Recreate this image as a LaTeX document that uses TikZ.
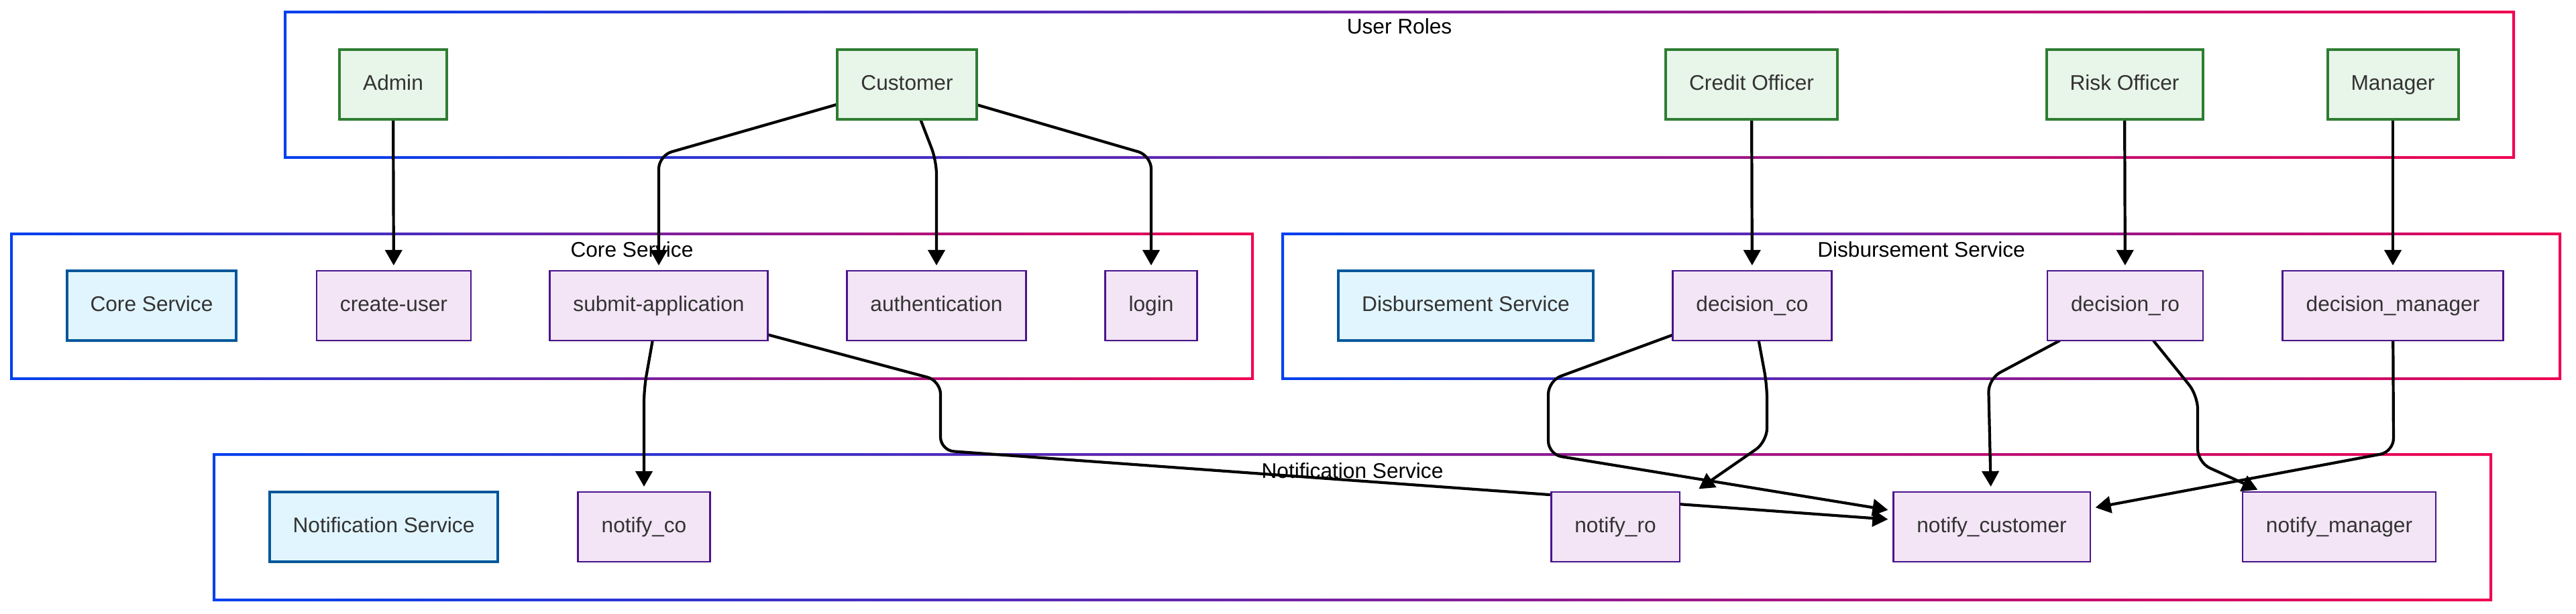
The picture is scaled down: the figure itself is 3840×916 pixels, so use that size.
\documentclass[tikz,border=0pt]{standalone}
\usepackage{fontspec}
\setmainfont{Liberation Sans}
\usetikzlibrary{arrows.meta, calc, shadows}
\definecolor{roleFill}{HTML}{E8F5E9}
\definecolor{roleDraw}{HTML}{2E7D32}
\definecolor{svcFill}{HTML}{E1F5FE}
\definecolor{svcDraw}{HTML}{01579B}
\definecolor{epFill}{HTML}{F3E5F5}
\definecolor{epDraw}{HTML}{4A148C}
\definecolor{txt}{HTML}{333333}
\definecolor{clBlue}{HTML}{0040F0}
\definecolor{clRed}{HTML}{F00050}
\pgfdeclarelayer{frames}
\pgfdeclarelayer{wires}
\pgfsetlayers{frames,wires,main}
\tikzset{%
   box/.style={
      rectangle,
      inner xsep=.35cm,
      inner ysep=0pt,
      minimum height=1.04cm,
      text height=.24cm,
      text depth=.07cm,
      outer sep=0pt,
      text=txt,
      font=\fontsize{9}{11}\selectfont,
      drop shadow={shadow xshift=.01cm, shadow yshift=-.03cm, opacity=.12}
   },
   role/.style={box, fill=roleFill, draw=roleDraw, line width=.04cm},
   svc/.style={box, fill=svcFill, draw=svcDraw, line width=.04cm},
   ep/.style={box, fill=epFill, draw=epDraw, line width=.025cm},
   title/.style={font=\fontsize{9}{11}\selectfont, inner sep=0pt},
   wire/.style={
      line width=.042cm,
      rounded corners=.2cm,
      -{Triangle[length=.23cm, width=.25cm]},
      shorten >=.08cm
   },
}
% gradient frame of a group: x1, y1, x2, y2
\newcommand\frameBox[4]{%
  \shade[even odd rule, left color=clBlue, right color=clRed]
     (#1-2,#2-2) rectangle (#3+2,#4+2) (#1+2,#2+2) rectangle (#3-2,#4-2);}

\begin{document}
\begin{tikzpicture}[x=.01cm, y=-.01cm]
   \useasboundingbox (0,0) rectangle (3840,916);
   \begin{pgfonlayer}{frames}
   \fill[white] (0,0) rectangle (3840,916);
   \frameBox{425}{18}{3747}{235}
   \frameBox{17}{349}{1867}{565}
   \frameBox{1912}{349}{3816}{565}
   \frameBox{319}{678}{3713}{895}
   \node[title] (tRoles) at (2086,39) {User Roles};
   \node[title] (tCore) at (942,372) {Core Service};
   \node[title] (tDisb) at (2864,372) {Disbursement Service};
   \node[title] (tNotif) at (2016,702) {Notification Service};
   \end{pgfonlayer}

   \node[role] (Admin) at (586,126) {Admin};
   \node[role] (Cust) at (1352,126) {Customer};
   \node[role] (CO) at (2611,126) {Credit Officer};
   \node[role] (RO) at (3167,126) {Risk Officer};
   \node[role] (Mgr) at (3567,126) {Manager};

   \node[svc] (CoreSvc) at (226,456) {Core Service};
   \node[ep] (CreateUser) at (587,456) {create-user};
   \node[ep] (Submit) at (982,456) {submit-application};
   \node[ep] (Auth) at (1396,456) {authentication};
   \node[ep] (Login) at (1716,456) {login};
   \node[svc] (DisbSvc) at (2185,456) {Disbursement Service};
   \node[ep] (DecCO) at (2612,456) {decision\_co};
   \node[ep] (DecRO) at (3168,456) {decision\_ro};
   \node[ep] (DecMgr) at (3567,456) {decision\_manager};

   \node[svc] (NotifSvc) at (572,786) {Notification Service};
   \node[ep] (NotCO) at (960,786) {notify\_co};
   \node[ep] (NotRO) at (2408,786) {notify\_ro};
   \node[ep] (NotCust) at (2969,786) {notify\_customer};
   \node[ep] (NotMgr) at (3487,786) {notify\_manager};

   \begin{pgfonlayer}{wires}
   \draw[wire] (Admin) -- (CreateUser);
   \draw[wire] (Cust) -- (982,232) -- (Submit);
   \draw[wire] (Cust) -- (1396,240) -- (Auth);
   \draw[wire] (Cust) -- (1716,232) -- (Login);
   \draw[wire] (CO) -- (DecCO);
   \draw[wire] (RO) -- (DecRO);
   \draw[wire] (Mgr) -- (DecMgr);
   \draw[wire] (Submit) -- (960,580) -- (NotCO);
   \draw[wire] (Submit) -- (1402,568) -- (1402,672) -- (NotCust);
   \draw[wire] (DecCO) -- (2308,568) -- (2308,678) -- (NotCust);
   \draw[wire] (DecCO) -- (2634,575) -- (2634,659) -- ($(NotRO.north east)+(22,0)$);
   \draw[wire] (DecRO) -- (2964,565) -- (NotCust);
   \draw[wire] (DecRO) -- (3276,590) -- (3276,690) -- (NotMgr);
   \draw[wire] (DecMgr) -- (3568,674) -- (NotCust);
   \end{pgfonlayer}
\end{tikzpicture}
\end{document}
